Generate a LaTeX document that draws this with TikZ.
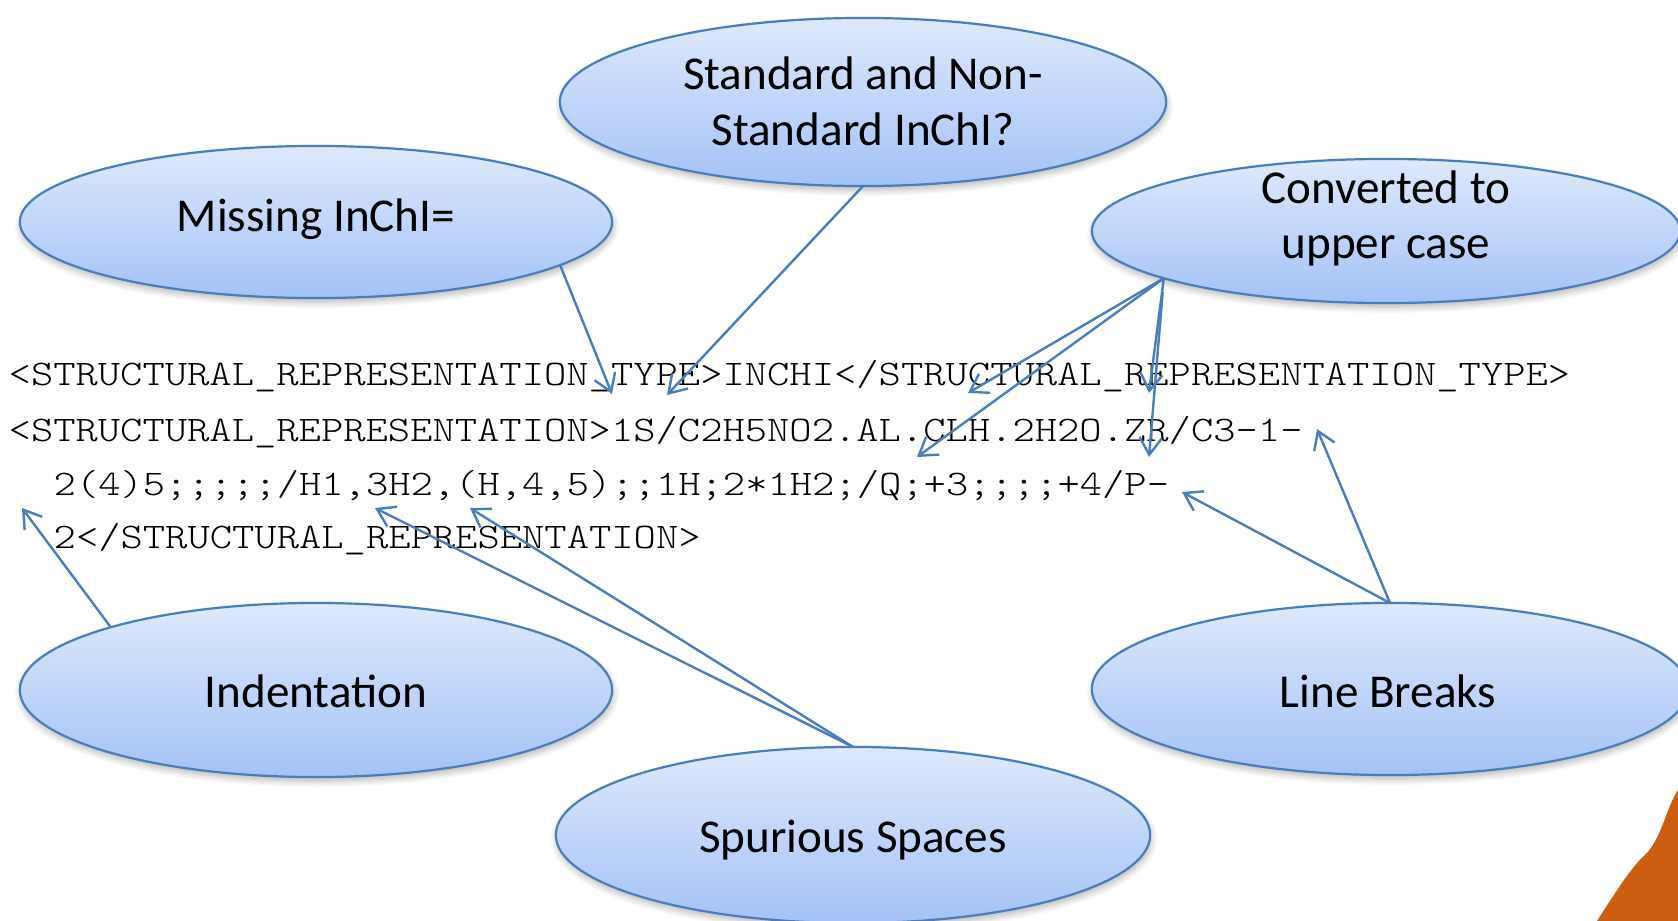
\documentclass[tikz,border=0pt]{standalone}
\usepackage{fontspec}
\setmainfont{Carlito}
\newfontfamily\codefont[FakeStretch=1.18]{lmmonolt10-regular.otf}
\usetikzlibrary{shapes.geometric,arrows.meta,shadows.blur}

\definecolor{bubbletop}{RGB}{222,233,252}
\definecolor{bubblebot}{RGB}{164,194,246}
\definecolor{bubbleline}{RGB}{74,126,187}
\definecolor{cornerorange}{RGB}{204,94,18}

\tikzset{
  bubble/.style={ellipse, draw=bubbleline, line width=0.022cm,
    top color=bubbletop, bottom color=bubblebot,
    inner sep=0pt, outer sep=0pt,
    blur shadow={shadow xshift=0.01cm, shadow yshift=-0.04cm,
      shadow blur steps=8, shadow opacity=30}},
  bubbletext/.style={anchor=base, inner sep=0pt,
    font=\fontsize{13.4pt}{16pt}\selectfont},
  codeline/.style={anchor=base west, inner sep=0pt,
    font=\codefont\fontsize{10.24pt}{12pt}\selectfont},
  pointer/.style={draw=bubbleline, line width=0.024cm,
    -{Straight Barb[length=0.17cm,width=0.22cm]}},
}

\begin{document}
\begin{tikzpicture}[x=0.01cm,y=-0.01cm]
\useasboundingbox (0,0) rectangle (1678,921);

% orange corner piece
\fill[cornerorange] (1597,921)
  .. controls (1615,893) and (1632,866) .. (1645,855)
  .. controls (1662,838) and (1666,808) .. (1678,790)
  -- (1678,921) -- cycle;

% callout bubbles
\node[bubble, minimum width=5.92cm, minimum height=1.52cm] (miss) at (316,222) {};
\node[bubble, minimum width=6.06cm, minimum height=1.68cm] (std)  at (863,102) {};
\node[bubble, minimum width=5.88cm, minimum height=1.44cm] (conv) at (1386,231) {};
\node[bubble, minimum width=5.92cm, minimum height=1.74cm] (ind)  at (316,690) {};
\node[bubble, minimum width=5.94cm, minimum height=1.76cm] (spur) at (853,835) {};
\node[bubble, minimum width=5.96cm, minimum height=1.72cm] (lb)   at (1390,689) {};

% bubble captions
\node[bubbletext] (missT)  at (316,231)  {Missing InChI=};
\node[bubbletext] (stdT1)  at (863,90)   {Standard and Non-};
\node[bubbletext] (stdT2)  at (863,145)  {Standard InChI?};
\node[bubbletext] (convT1) at (1386,203) {Converted to};
\node[bubbletext] (convT2) at (1386,258) {upper case};
\node[bubbletext] (indT)   at (316,707)  {Indentation};
\node[bubbletext] (spurT)  at (853,852)  {Spurious Spaces};
\node[bubbletext] (lbT)    at (1388,707) {Line Breaks};

% the XML fragment
\node[codeline] (l1) at (8,385)  {<STRUCTURAL\_REPRESENTATION\_TYPE>INCHI</STRUCTURAL\_REPRESENTATION\_TYPE>};
\node[codeline] (l2) at (8,441)  {<STRUCTURAL\_REPRESENTATION>1S/C2H5NO2.AL.CLH.2H2O.ZR/C3-1-};
\node[codeline] (l3) at (53,495) {2(4)5;;;;;/H1,3H2,(H,4,5);;1H;2*1H2;/Q;+3;;;;+4/P-};
\node[codeline] (l4) at (53,548) {2</STRUCTURAL\_REPRESENTATION>};

% pointer targets
\coordinate (tMiss) at (612,394);
\coordinate (tStd)  at (667,395);
\coordinate (tC1)   at (968,393);
\coordinate (tC2)   at (917,457);
\coordinate (tC3)   at (1149,393);
\coordinate (tC4)   at (1149,457);
\coordinate (tL1)   at (1317,429);
\coordinate (tL2)   at (1182,492);
\coordinate (tInd)  at (22,508);
\coordinate (tS1)   at (375,508);
\coordinate (tS2)   at (470,508);

% pointers
\draw[pointer] (miss.-10.6) -- (tMiss);
\draw[pointer] (std.south) -- (tStd);
\draw[pointer] (conv.192.7) -- (tC1);
\draw[pointer] (conv.192.7) -- (tC2);
\draw[pointer] (conv.192.7) -- (tC3);
\draw[pointer, shorten <=0.14cm] (conv.192.7) -- (tC4);
\draw[pointer] (lb.north) -- (tL1);
\draw[pointer] (lb.north) -- (tL2);
\draw[pointer] (ind.163.2) -- (tInd);
\draw[pointer] (spur.north) -- (tS1);
\draw[pointer] (spur.north) -- (tS2);
\end{tikzpicture}
\end{document}
